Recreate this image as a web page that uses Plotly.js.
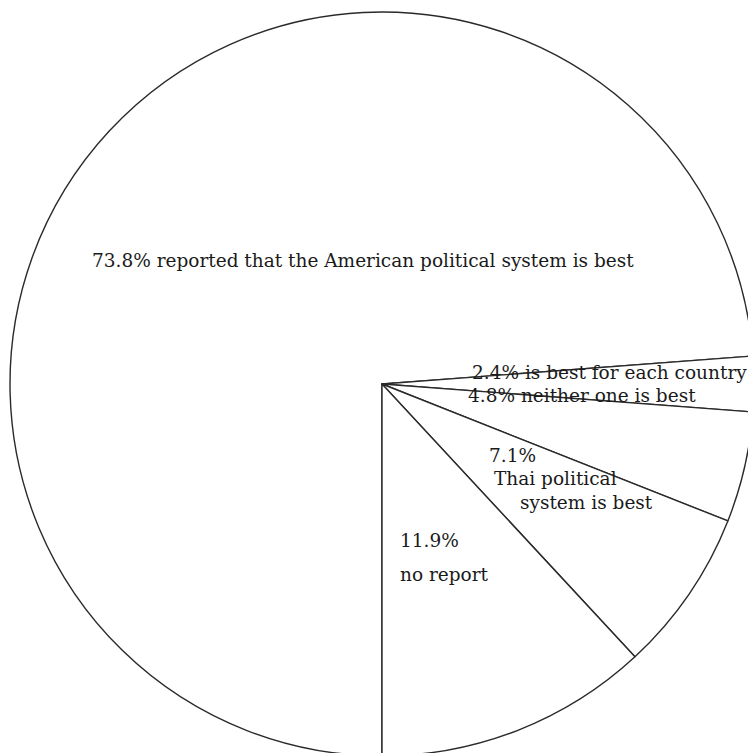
<!DOCTYPE html>
<html>
<head>
<meta charset="utf-8">
<script src="https://cdn.plot.ly/plotly-3.0.1.min.js"></script>
<style>
  html, body { margin: 0; padding: 0; overflow: hidden; background: #fff; }
  #chart { width: 764px; height: 768px; }
</style>
</head>
<body>
<div id="chart"></div>
<script>
// Data, clockwise from 6 o'clock
var categories = [
  "reported that the American political system is best",
  "is best for each country",
  "neither one is best",
  "Thai political system is best",
  "no report"
];
var percentValues = [73.8, 2.4, 4.8, 7.1, 11.9];
var percentLabels = ["73.8%", "2.4%", "4.8%", "7.1%", "11.9%"];
var thaiLines = ["Thai political", "system is best"];

var W = 764, H = 768;
function px(x) { return x / W; }
function py(y) { return 1 - y / H; }

var font = { family: "DejaVu Serif, serif", size: 18.5, color: "#1a1a1a" };

function ann(text, x, y) {
  return { text: text, x: px(x), y: py(y), xref: "paper", yref: "paper",
           xanchor: "left", yanchor: "middle", showarrow: false, font: font };
}

var annotations = [
  ann(percentLabels[0] + " " + categories[0], 90, 260),
  ann(percentLabels[1] + " " + categories[1], 470, 372),
  ann(percentLabels[2] + " " + categories[2], 466, 395),
  ann(percentLabels[3], 487, 455),
  ann(thaiLines[0], 492, 478),
  ann(thaiLines[1], 518, 502),
  ann(percentLabels[4], 398, 540),
  ann(categories[4], 398, 574)
];

var trace = {
  type: "pie",
  labels: categories,
  values: percentValues,
  sort: false,
  direction: "clockwise",
  rotation: 180,
  textinfo: "none",
  hoverinfo: "skip",
  showlegend: false,
  marker: { colors: ["#ffffff", "#ffffff", "#ffffff", "#ffffff", "#ffffff"],
            line: { color: "#2a2a2a", width: 1.4 } },
  domain: { x: [10 / W, 754 / W], y: [12 / H, 756 / H] }
};

var layout = {
  width: W, height: H,
  margin: { l: 0, r: 0, t: 0, b: 0, pad: 0 },
  paper_bgcolor: "#ffffff",
  plot_bgcolor: "#ffffff",
  showlegend: false,
  annotations: annotations
};

Plotly.newPlot("chart", [trace], layout, { staticPlot: true, displayModeBar: false });
</script>
</body>
</html>
